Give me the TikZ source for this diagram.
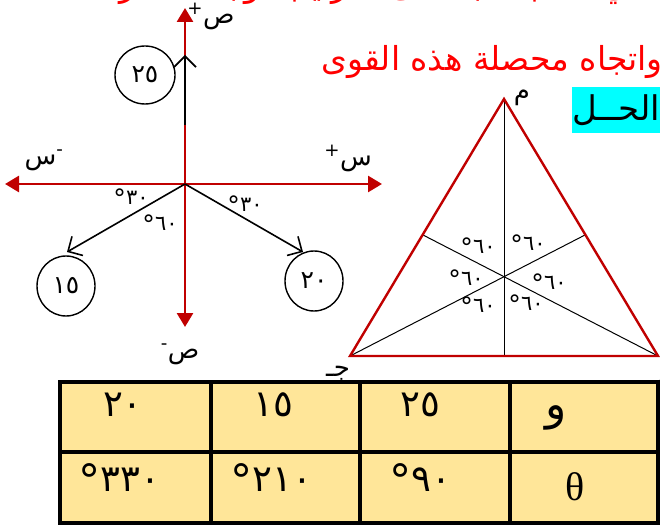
\documentclass[tikz,border=0pt]{standalone}
\usepackage{fontspec}
\newfontfamily\arabicfont[Script=Arabic]{DejaVu Sans}
\newfontfamily\greekfont{Liberation Serif}
\TeXXeTstate=1
\usetikzlibrary{arrows.meta,shapes.geometric}
\definecolor{axisred}{HTML}{C00000}
\definecolor{textred}{HTML}{FF0000}
\definecolor{cellfill}{HTML}{FFE699}
\definecolor{hlcyan}{HTML}{00FFFF}
\newcommand\degnum[1]{\hbox{\raisebox{-0.14em}{\scalebox{1.2}{°}}}\hbox{#1}}

\begin{document}
\begin{tikzpicture}[
    x=1pt,
    y=-1pt,
    axis/.style={axisred, line width=2.6pt, {Triangle[length=14pt,width=16pt]}-{Triangle[length=14pt,width=16pt]}},
    force/.style={line width=1.6pt, -{Straight Barb[length=11pt,width=22pt,line width=1.6pt]}},
    mag/.style={draw, ellipse, line width=1.4pt, minimum width=58pt, minimum height=60pt, inner sep=0pt, font=\arabicfont\fontsize{25}{27}\selectfont},
    ang/.style={inner sep=0pt, font=\arabicfont\fontsize{21}{22}\selectfont},
    axlabel/.style={inner sep=0pt, font=\arabicfont\fontsize{26}{28}\selectfont},
    vlabel/.style={anchor=base, inner sep=0pt, font=\arabicfont\fontsize{26}{28}\selectfont},
    question/.style={anchor=base east, inner sep=0pt, textred, font=\arabicfont\fontsize{33}{35}\selectfont},
    cell/.style={inner sep=0pt, font=\arabicfont\fontsize{37}{39}\selectfont},
    grid/.style={line width=3.5pt}
]
\clip (0,0) rectangle (660,526);

\node[question] (q1) at (646,-3) {\beginR في أ ، ب ، جـ على الترتيب أوجد مقدار\endR};
\node[question] (q2) at (663,71) {\beginR واتجاه محصلة هذه القوى\endR};
\node[anchor=north west, fill=hlcyan, minimum width=88pt, minimum height=46pt, inner sep=0pt,
      font=\arabicfont\fontsize{34}{36}\selectfont] (sol) at (572,87) {\beginR الحــل\endR};

\coordinate (O) at (185,184);
\coordinate (xl) at (5,184);
\coordinate (xr) at (382,184);
\coordinate (yt) at (185,8);
\coordinate (yb) at (185,327);
\draw[axis] (xl) -- (xr);
\draw[axis] (yt) -- (yb);

\coordinate (s25) at (185,125);
\coordinate (t25) at (185,55);
\coordinate (t15) at (67,252);
\coordinate (t20) at (303,252);
\draw[force] (s25) -- (t25);
\draw[force] (O) -- (t15);
\draw[force] (O) -- (t20);

\node[mag, minimum width=60pt, minimum height=58pt] (f25) at (145,75) {٢٥};
\node[mag] (f15) at (66,286) {١٥};
\node[mag] (f20) at (314,281) {٢٠};

\node[axlabel] (xneg) at (44,160) {س\textsuperscript{-}};
\node[axlabel] (xpos) at (348,158) {\textsuperscript{+}س};
\node[axlabel] (ypos) at (211,16) {\textsuperscript{+}ص};
\node[axlabel] (yneg) at (180,354) {\textsuperscript{-}ص};

\node[ang] (a1) at (131,198) {\degnum{٣٠}};
\node[ang] (a2) at (160,224) {\degnum{٦٠}};
\node[ang] (a3) at (245,205) {\degnum{٣٠}};

\coordinate (A) at (504,99);
\coordinate (B) at (658,356);
\coordinate (C) at (350,356);
\coordinate (mBC) at (504,356);
\coordinate (mAB) at (585,235);
\coordinate (mAC) at (423,235);
\draw[line width=1pt] (A) -- (mBC);
\draw[line width=1pt] (C) -- (mAB);
\draw[line width=1pt] (B) -- (mAC);
\draw[axisred, line width=2.4pt] (A) -- (B) -- (C) -- cycle;

\node[ang] (g1) at (478,247) {\degnum{٦٠}};
\node[ang] (g2) at (528,244) {\degnum{٦٠}};
\node[ang] (g3) at (466,279) {\degnum{٦٠}};
\node[ang] (g4) at (549,283) {\degnum{٦٠}};
\node[ang] (g5) at (478,306) {\degnum{٦٠}};
\node[ang] (g6) at (526,304) {\degnum{٦٠}};

\node[vlabel] (la) at (522,100) {م};
\node[vlabel] (lc) at (338,376) {جـ};
\node[vlabel] (lb) at (652,388) {ب};

\fill[cellfill] (60,382) rectangle (658,523);
\draw[grid] (60,382) rectangle (658,523);
\draw[grid] (60,452) -- (658,452);
\foreach \x in {211,360,510} {
    \draw[grid] (\x,382) -- (\x,523);
}
\node[cell] (c1) at (123,405) {٢٠};
\node[cell] (c2) at (273,405) {١٥};
\node[cell] (c3) at (420,405) {٢٥};
\node[cell, font=\arabicfont\fontsize{44}{46}\selectfont] (c4) at (556,418) {و};
\node[cell] (d1) at (119,480) {\degnum{٣٣٠}};
\node[cell] (d2) at (271,480) {\degnum{٢١٠}};
\node[cell] (d3) at (420,480) {\degnum{٩٠}};
\node[cell, font=\greekfont\fontsize{40}{42}\selectfont] (d4) at (575,487) {θ};
\end{tikzpicture}
\end{document}
